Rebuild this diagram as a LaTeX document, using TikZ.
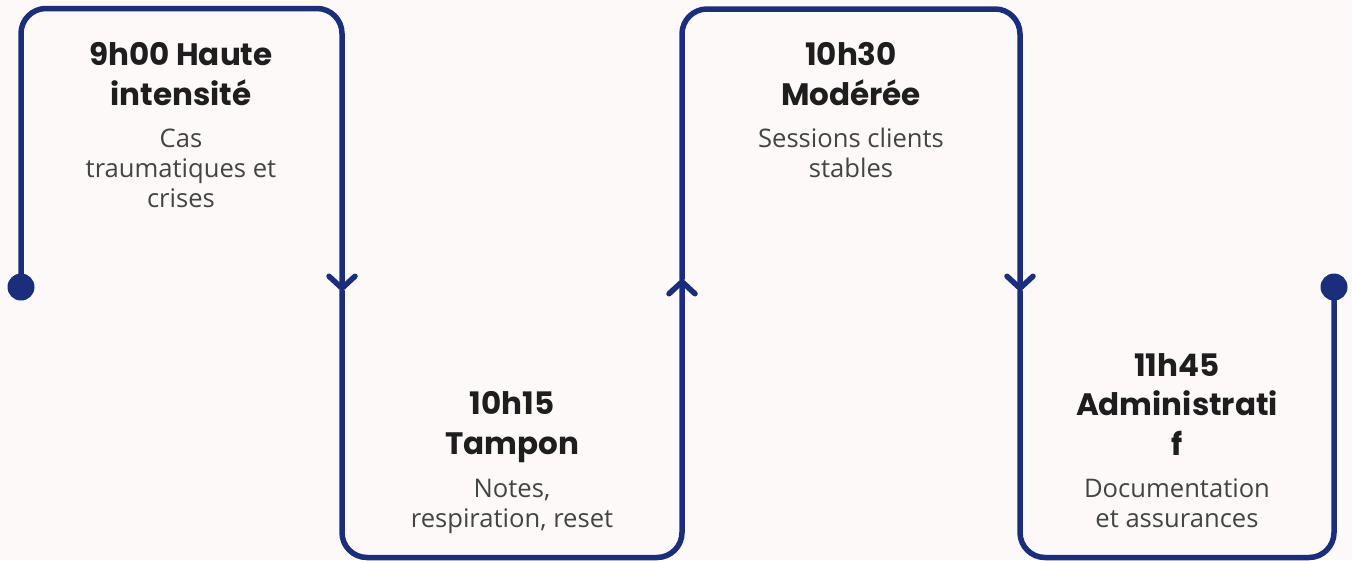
\documentclass[tikz,border=0pt]{standalone}
\usepackage{fontspec}
\usepackage{xcolor}
\usetikzlibrary{arrows.meta}

\newfontfamily\titlefont{Poppins}
\newfontfamily\bodyfont{Open Sans}[Ligatures=NoCommon]

\definecolor{pathblue}{HTML}{1B2E7C}
\definecolor{paper}{HTML}{FDF9F8}
\definecolor{titleink}{HTML}{1E1E1E}
\definecolor{bodyink}{HTML}{444444}

\begin{document}
\begin{tikzpicture}[x=1pt, y=-1pt, line width=5.5pt,
    track/.style={draw=pathblue, line cap=round, rounded corners=25pt,
        -{Straight Barb[length=12pt, width=26pt, line cap=round, line join=round]}},
    heading/.style={font=\titlefont\bfseries\fontsize{31}{39.5}\selectfont, text=titleink, align=center, inner sep=0pt, anchor=base},
    detail/.style={font=\bodyfont\fontsize{25.6}{30}\selectfont, text=bodyink, align=center, inner sep=0pt, anchor=base}]
    \fill[paper] (0,0) rectangle (1352,560);
    \useasboundingbox (0,0) rectangle (1352,560);

    % corners of the track
    \coordinate (start) at (21,287);
    \coordinate (top1) at (342,8.5);
    \coordinate (down1) at (342,291);
    \coordinate (bot2) at (682,557.5);
    \coordinate (up2) at (682,279);
    \coordinate (top3) at (1020,9);
    \coordinate (down3) at (1020,291);
    \coordinate (bot4) at (1334,557.5);
    \coordinate (stop) at (1334,287);

    \draw[track] (start) |- (top1) -- (down1);
    \draw[track] (down1) |- (bot2) -- (up2);
    \draw[track] (up2) |- (top3) -- (down3);
    \draw[track, -] (down3) |- (bot4) -- (stop);

    \fill[pathblue] (start) circle[radius=13.5pt];
    \fill[pathblue] (stop) circle[radius=13.5pt];

    % texts (anchored at the baseline of their last line)
    \node[heading] (h1) at (181,105) {9h00 Haute\\intensité};
    \node[detail] (d1) at (181,207) {Cas\\traumatiques et\\crises};

    \node[heading] (h2) at (512,454) {10h15\\Tampon};
    \node[detail] (d2) at (512,527) {Notes,\\respiration, reset};

    \node[heading] (h3) at (851,105) {10h30\\Modérée};
    \node[detail] (d3) at (851,177) {Sessions clients\\stables};

    \node[heading] (h4) at (1177,455) {11h45\\Administrati\\f};
    \node[detail] (d4) at (1177,527) {Documentation\\et assurances};
\end{tikzpicture}
\end{document}
